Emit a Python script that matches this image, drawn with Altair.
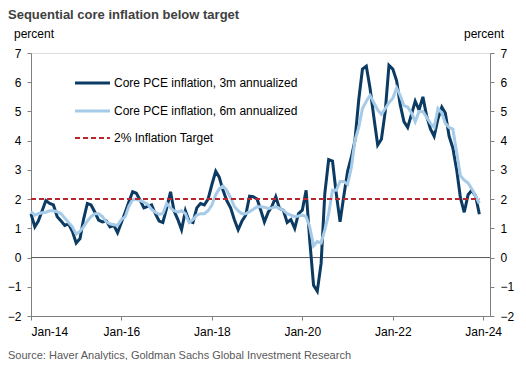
import altair as alt
import pandas as pd

# Monthly data, Jan-2014 .. Dec-2023
core_3m = [
    1.5, 1.05, 1.25, 1.6, 1.95, 1.85, 1.8, 1.4, 1.25, 1.1, 1.15, 0.9,
    0.5, 0.65, 1.3, 1.85, 1.8, 1.55, 1.28, 1.22, 1.25, 1.05, 1.1, 0.85,
    1.2, 1.55, 1.9, 2.25, 2.2, 1.95, 1.7, 1.75, 1.8, 1.5, 1.25, 1.2,
    1.7, 2.25, 1.6, 1.3, 0.95, 1.6, 1.25, 1.2, 1.7, 1.85, 1.8, 2.0,
    2.5, 2.95, 2.75, 2.3, 1.95, 1.7, 1.3, 0.95, 1.25, 1.45, 2.1, 2.08,
    2.0, 1.6, 1.22, 1.55, 1.75, 2.08, 1.68, 1.62, 1.2, 1.3, 1.0, 1.5,
    1.62, 2.3, 0.6, -0.95, -1.15, -0.2, 2.2, 3.35, 3.3, 2.2, 1.22, 2.1,
    2.95, 3.45, 4.0, 5.4, 6.45, 6.55, 5.8, 4.8, 3.85, 4.05, 5.0, 6.58,
    6.45, 6.05, 5.25, 4.65, 4.45, 4.9, 5.35, 5.05, 5.5, 4.85, 4.4, 4.15,
    4.75, 5.15, 4.95, 4.15, 3.75, 3.0, 2.05, 1.55, 2.15, 2.3, 2.1, 1.48,
]
core_6m = [
    1.57, 1.45, 1.5, 1.53, 1.55, 1.6, 1.6, 1.57, 1.5, 1.35, 1.2, 1.05,
    0.8, 0.9, 1.05, 1.25, 1.4, 1.5, 1.5, 1.4, 1.22, 1.15, 1.12, 1.1,
    1.3, 1.4, 1.75, 1.98, 2.0, 1.95, 1.9, 1.82, 1.65, 1.55, 1.48, 1.5,
    1.85, 1.7, 1.6, 1.55, 1.6, 1.5, 1.2, 1.3, 1.45, 1.5, 1.5, 1.6,
    1.8, 2.15, 2.35, 2.45, 2.3, 2.05, 1.75, 1.6, 1.5, 1.5, 1.57, 1.65,
    1.74, 1.74, 1.72, 1.68, 1.7, 1.74, 1.68, 1.62, 1.5, 1.45, 1.4, 1.42,
    1.45, 1.4, 1.05, 0.4, 0.55, 0.5, 0.95, 1.5, 2.3, 2.3, 2.6, 2.6,
    2.5, 3.1, 4.0, 4.45, 5.1, 5.35, 5.55, 5.3, 5.05, 4.9, 5.1, 5.3,
    5.45, 5.8, 5.55, 5.2, 5.15, 4.95, 4.65, 5.0, 5.0, 4.8, 4.6, 4.45,
    5.1, 4.95, 4.6, 4.45, 4.4, 3.6, 2.8, 2.65, 2.55, 2.35, 2.1, 1.85,
]
target = 2.0
y_ticks = [-2, -1, 0, 1, 2, 3, 4, 5, 6, 7]
x_tick_years = [2014, 2016, 2018, 2020, 2022, 2024]
legend_labels = [
    "Core PCE inflation, 3m annualized",
    "Core PCE inflation, 6m annualized",
    "2% Inflation Target",
]
title_text = "Sequential core inflation below target"
source_text = "Source: Haver Analytics, Goldman Sachs Global Investment Research"

dates = pd.date_range("2014-01-01", periods=len(core_3m), freq="MS")
df = pd.DataFrame({"date": dates, "core_3m": core_3m, "core_6m": core_6m})
df_target = pd.DataFrame({"date": [dates[0], dates[-1]], "v": [target, target]})

FONT = "Liberation Sans"
DARK = "#0B3A63"
LIGHT = "#A6CBE8"
RED = "#B7282E"
AXIS_GRAY = "#808080"

x_domain = [alt.DateTime(year=2014, month=1, date=1), alt.DateTime(year=2024, month=2, date=25)]
x_vals = [alt.DateTime(year=y, month=1, date=1) for y in x_tick_years]

x_enc = alt.X(
    "date:T",
    scale=alt.Scale(domain=x_domain),
    axis=alt.Axis(
        values=x_vals, format="%b-%y", title=None, grid=False,
        domainColor=AXIS_GRAY, tickColor=AXIS_GRAY, tickSize=4,
        labelFont=FONT, labelFontSize=12, labelColor="#000000", labelPadding=6,
        labelAngle=0,
    ),
)
y_scale = alt.Scale(domain=[-2, 7], nice=False, zero=False)


def y_axis(orient):
    return alt.Axis(
        orient=orient, values=y_ticks, title=None, grid=False,
        domainColor=AXIS_GRAY, tickColor=AXIS_GRAY, tickSize=4,
        labelFont=FONT, labelFontSize=12, labelColor="#000000", labelPadding=6,
    )


base = alt.Chart(df)

zero_line = alt.Chart(pd.DataFrame({"v": [0]})).mark_rule(color="#595959", strokeWidth=1).encode(
    y=alt.Y("v:Q", scale=y_scale, axis=y_axis("left"))
)

line_3m = base.mark_line(color=DARK, strokeWidth=3).encode(
    x=x_enc, y=alt.Y("core_3m:Q", scale=y_scale, axis=y_axis("left"))
)
line_6m = base.mark_line(color=LIGHT, strokeWidth=3).encode(
    x=x_enc, y=alt.Y("core_6m:Q", scale=y_scale, axis=y_axis("left"))
)
line_target = alt.Chart(df_target).mark_line(color=RED, strokeWidth=2, strokeDash=[5, 3]).encode(
    x=x_enc, y=alt.Y("v:Q", scale=y_scale, axis=y_axis("left"))
)

right_axis = alt.Chart(pd.DataFrame({"v": [0]})).mark_point(opacity=0).encode(
    y=alt.Y("v:Q", scale=y_scale, axis=y_axis("right"))
)

one = pd.DataFrame({"a": [0]})

# Legend (manual)
leg_layers = []
leg_y = [30, 58, 85]
leg_styles = [
    dict(color=DARK, strokeWidth=3),
    dict(color=LIGHT, strokeWidth=3),
    dict(color=RED, strokeWidth=2, strokeDash=[5, 3]),
]
for yy, lab, st in zip(leg_y, legend_labels, leg_styles):
    leg_layers.append(
        alt.Chart(one).mark_rule(**st).encode(
            x=alt.value(44), x2=alt.value(79), y=alt.value(yy)
        )
    )
    leg_layers.append(
        alt.Chart(pd.DataFrame({"t": [lab]})).mark_text(
            align="left", baseline="middle", font=FONT, fontSize=12, color="#000000"
        ).encode(text="t:N", x=alt.value(83), y=alt.value(yy))
    )

def txt(s, x, y, align="left", size=12, bold=False, color="#000000"):
    return alt.Chart(pd.DataFrame({"t": [s]})).mark_text(
        align=align, baseline="middle", font=FONT, fontSize=size,
        fontWeight="bold" if bold else "normal", color=color,
    ).encode(text="t:N", x=alt.value(x), y=alt.value(y))

texts = [
    txt(title_text, -23, -38, size=13, bold=True, color="#404040"),
    txt("percent", -17, -19, size=12),
    txt("percent", 473, -19, align="right", size=12),
    txt(source_text, -23, 303, size=11, color="#595959"),
]

left_layer = alt.layer(zero_line, line_3m, line_6m, line_target, *leg_layers, *texts)
chart = alt.layer(left_layer, right_axis).resolve_scale(y="independent").properties(
    width=459, height=263,
    autosize=alt.AutoSizeParams(type="none"),
    padding={"left": 23, "top": 45, "right": 28, "bottom": 44},
).configure_view(stroke=None).configure(background="#ffffff")

chart.save("out.html", embed_options={"renderer": "svg", "actions": False})
